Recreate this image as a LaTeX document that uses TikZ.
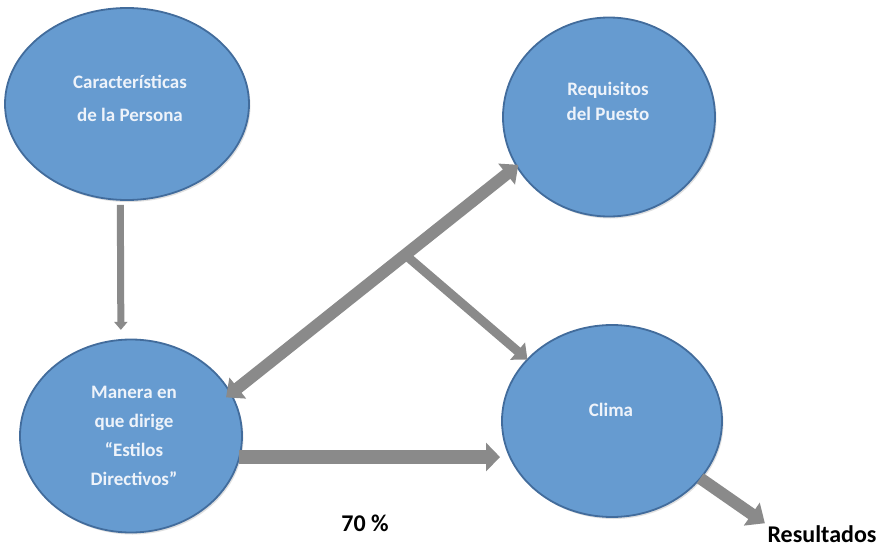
\documentclass[tikz,border=0pt]{standalone}
\usepackage{fontspec}
\setmainfont{Carlito}
\usetikzlibrary{shapes.geometric,arrows.meta,calc,shadows}
\definecolor{bubblefill}{RGB}{102,155,208}
\definecolor{bubbleedge}{RGB}{66,108,156}
\definecolor{arrowgray}{RGB}{138,138,138}
\definecolor{labelwhite}{RGB}{238,243,250}

\begin{document}
\begin{tikzpicture}[
    x=1pt, y=-1pt,
    bubble/.style={ellipse, draw=bubbleedge, line width=1.8pt, fill=bubblefill, inner sep=0pt, outer sep=0pt,
        drop shadow={shadow xshift=1.5pt, shadow yshift=-2pt, fill=black!25}},
    btext/.style={text=labelwhite, align=center, inner sep=0pt, font=\fontsize{19}{#1}\selectfont\bfseries},
    plain/.style={anchor=base, inner sep=0pt, font=\fontsize{24}{30}\selectfont\bfseries},
    thinarrow/.style={arrowgray, line width=7pt, -{Triangle[length=8pt, width=13pt]}},
    fatarrow/.style={arrowgray, line width=12pt, {Triangle[length=15pt, width=26pt]}-{Triangle[length=15pt, width=26pt]}},
    midarrow/.style={arrowgray, line width=9pt, -{Triangle[length=13pt, width=22pt]}},
    flatarrow/.style={arrowgray, line width=14pt, -{Triangle[length=14pt, width=28pt]}},
    outarrow/.style={arrowgray, line width=12pt, -{Triangle[length=16pt, width=27pt]}}
]
\useasboundingbox (0,0) rectangle (887,549);

% bubbles
\node[bubble, minimum width=244pt, minimum height=192pt] (cp) at (127,104) {};
\node[bubble, minimum width=212pt, minimum height=199pt] (rp) at (609,117) {};
\node[bubble, minimum width=222pt, minimum height=193pt] (md) at (131,436) {};
\node[bubble, minimum width=220pt, minimum height=192pt] (cl) at (612,421) {};

% bubble texts
\node[btext=33pt] (cpt) at (130,98) {Características\\de la Persona};
\node[btext=25pt] (rpt) at (608,101) {Requisitos\\del Puesto};
\node[btext=29pt] (mdt) at (134,436) {Manera en\\que dirige\\“Estilos\\Directivos”};
\node[btext=25pt] (clt) at (611,410) {Clima};

% free labels
\node[plain] (pct) at (365,531) {70 \%};
\node[plain] (res) at (822,542) {Resultados};

% connectors
\draw[thinarrow, shorten <=5pt, shorten >=10pt] (cp.-94) -- (md.96);
\draw[fatarrow, shorten <=-2pt, shorten >=-6pt] (rp.208) -- (md.23);
\coordinate (hub) at ($(md.23)!0.61!(rp.208)$);
\draw[midarrow] (hub) -- (cl.144);
\draw[flatarrow, shorten >=2pt] (md.-11) -- (md.-11 -| cl.west);
\draw[outarrow, shorten >=3pt] (cl.-33) -- (res.north west);

\end{tikzpicture}
\end{document}
